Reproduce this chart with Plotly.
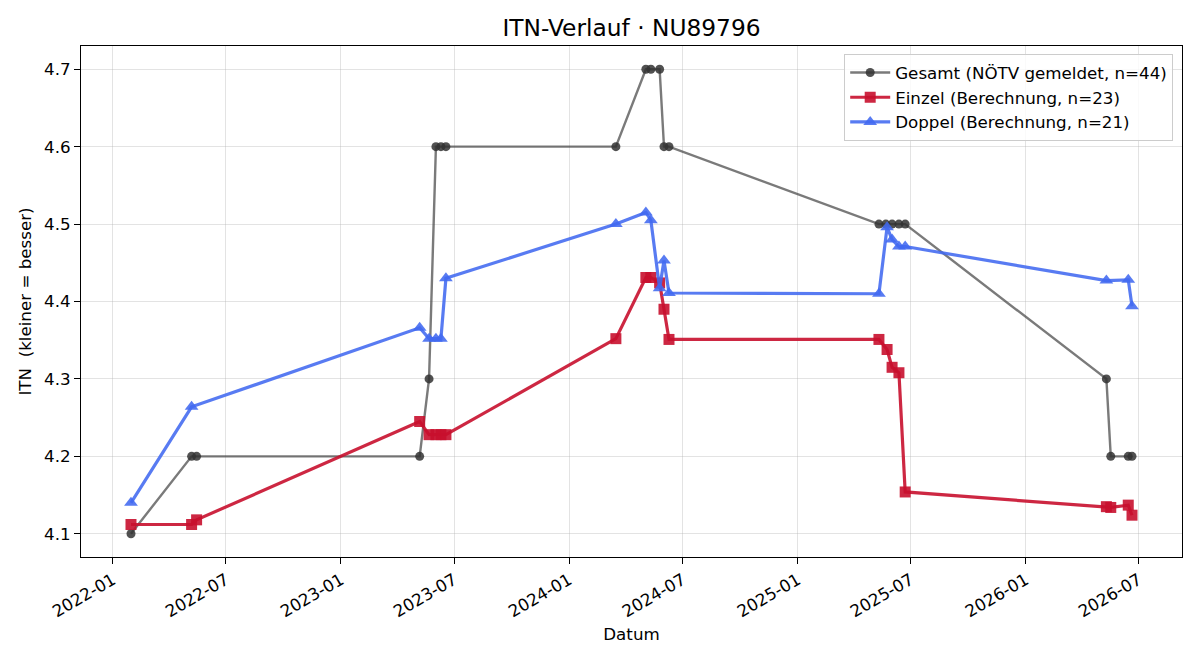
import plotly.graph_objects as go

# ---- data ----
dates_gesamt = ["2022-01-30", "2022-05-07", "2022-05-15", "2023-05-07", "2023-05-22",
                "2023-06-02", "2023-06-10", "2023-06-18", "2024-03-16", "2024-05-03",
                "2024-05-11", "2024-05-25", "2024-06-01", "2024-06-09", "2025-05-11",
                "2025-05-22", "2025-06-01", "2025-06-12", "2025-06-22", "2026-05-10",
                "2026-05-17", "2026-06-14", "2026-06-20"]
itn_gesamt = [4.1, 4.2, 4.2, 4.2, 4.3, 4.6, 4.6, 4.6, 4.6, 4.7, 4.7, 4.7, 4.6, 4.6,
              4.5, 4.5, 4.5, 4.5, 4.5, 4.3, 4.2, 4.2, 4.2]

dates_einzel = ["2022-01-30", "2022-05-07", "2022-05-15", "2023-05-07", "2023-05-22",
                "2023-06-02", "2023-06-10", "2023-06-18", "2024-03-16", "2024-05-03",
                "2024-05-11", "2024-05-25", "2024-06-01", "2024-06-09", "2025-05-11",
                "2025-05-24", "2025-06-01", "2025-06-12", "2025-06-22", "2026-05-10",
                "2026-05-17", "2026-06-14", "2026-06-20"]
itn_einzel = [4.112, 4.112, 4.118, 4.245, 4.228, 4.228, 4.228, 4.228, 4.352, 4.431,
              4.431, 4.424, 4.390, 4.351, 4.351, 4.338, 4.315, 4.308, 4.154, 4.135,
              4.134, 4.137, 4.124]

dates_doppel = ["2022-01-30", "2022-05-07", "2023-05-07", "2023-05-22", "2023-06-02",
                "2023-06-10", "2023-06-18", "2024-03-16", "2024-05-03", "2024-05-11",
                "2024-05-25", "2024-06-01", "2024-06-09", "2025-05-11", "2025-05-24",
                "2025-06-01", "2025-06-12", "2025-06-22", "2026-05-10", "2026-06-14",
                "2026-06-20"]
itn_doppel = [4.140, 4.264, 4.366, 4.352, 4.352, 4.352, 4.430, 4.500, 4.515, 4.505,
              4.417, 4.453, 4.411, 4.410, 4.496, 4.480, 4.471, 4.471, 4.427, 4.428,
              4.394]

names = ["Gesamt (NÖTV gemeldet, n=44)", "Einzel (Berechnung, n=23)",
         "Doppel (Berechnung, n=21)"]

FONT = "DejaVu Sans"
fig = go.Figure()
fig.add_trace(go.Scatter(
    x=dates_gesamt, y=itn_gesamt, name=names[0], mode="lines+markers",
    line=dict(color="rgba(70,70,70,0.72)", width=2.4),
    marker=dict(symbol="circle", size=9, color="rgba(50,50,50,0.85)"),
))
fig.add_trace(go.Scatter(
    x=dates_einzel, y=itn_einzel, name=names[1], mode="lines+markers",
    line=dict(color="rgba(200,16,46,0.9)", width=3.2),
    marker=dict(symbol="square", size=11, color="rgba(200,16,46,0.9)"),
))
fig.add_trace(go.Scatter(
    x=dates_doppel, y=itn_doppel, name=names[2], mode="lines+markers",
    line=dict(color="rgba(65,105,240,0.88)", width=3.2),
    marker=dict(symbol="triangle-up", size=12, color="rgba(65,105,240,0.88)"),
))

fig.update_layout(
    width=1200, height=660,
    margin=dict(l=81, r=18, t=46, b=103),
    paper_bgcolor="white", plot_bgcolor="white",
    font=dict(family=FONT, size=16.7, color="black"),
    title=dict(text="ITN-Verlauf · NU89796", x=0.5, xanchor="center", xref="paper",
               y=1 - 28 / 660, yanchor="middle", yref="container",
               font=dict(size=23.3, family=FONT, color="black")),
    showlegend=True,
    legend=dict(x=0.992, y=0.984, xanchor="right", yanchor="top",
                bgcolor="rgba(255,255,255,0.8)", bordercolor="#cccccc",
                borderwidth=1, font=dict(size=16.7, family=FONT),
                itemwidth=40, tracegroupgap=0),
)
fig.update_xaxes(
    range=["2021-11-11", "2026-09-08"], type="date",
    tick0="2022-01-01", dtick="M6", tickformat="%Y-%m", tickangle=-30,
    ticks="outside", ticklen=6, tickcolor="black", tickwidth=1,
    showline=True, linecolor="black", linewidth=1, mirror=True,
    showgrid=True, gridcolor="rgba(176,176,176,0.35)", gridwidth=1,
    zeroline=False,
    title=dict(text="Datum", font=dict(size=16.7, family=FONT), standoff=8),
)
fig.update_yaxes(
    range=[4.07, 4.73], tick0=4.1, dtick=0.1, tickformat=".1f",
    ticks="outside", ticklen=6, tickcolor="black", tickwidth=1,
    showline=True, linecolor="black", linewidth=1, mirror=True,
    showgrid=True, gridcolor="rgba(176,176,176,0.35)", gridwidth=1,
    zeroline=False,
    title=dict(text="ITN\u00a0 (kleiner = besser)", font=dict(size=16.7, family=FONT),
               standoff=8),
)

fig.write_html("out.html")
